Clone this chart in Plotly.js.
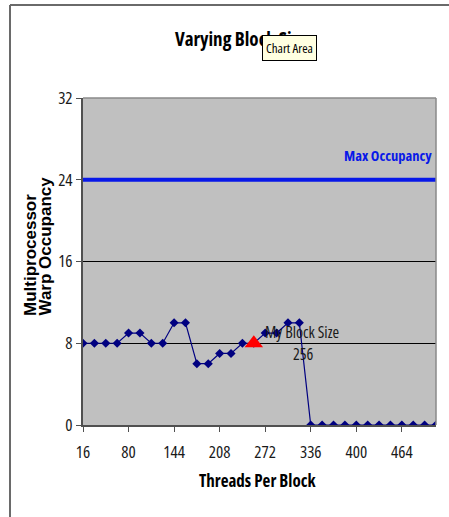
<!DOCTYPE html>
<html>
<head>
<meta charset="utf-8">
<script src="https://cdn.plot.ly/plotly-3.0.1.min.js"></script>
<style>
  html, body { margin: 0; padding: 0; background: #ffffff; }
  #chart { width: 449px; height: 517px; }
  /* condensed face for the narrow chart lettering */
  text[style*="Open Sans"] { font-stretch: 75%; }
</style>
</head>
<body>
<div id="chart"></div>
<script>
// ---- data ----
const blockSizes = [16, 32, 48, 64, 80, 96, 112, 128, 144, 160, 176, 192, 208, 224, 240, 256,
                    272, 288, 304, 320, 336, 352, 368, 384, 400, 416, 432, 448, 464, 480, 496, 512];
const warpOccupancy = [8, 8, 8, 8, 9, 9, 8, 8, 10, 10, 6, 6, 7, 7, 8, 8,
                       9, 9, 10, 10, 0, 0, 0, 0, 0, 0, 0, 0, 0, 0, 0, 0];
const myBlockSize = [256];
const myOccupancy = [8];
const maxOccupancy = 24;
const xTickVals = [16, 80, 144, 208, 272, 336, 400, 464];
const yTickVals = [0, 8, 16, 24, 32];

const NARROW = '"Open Sans", "Roboto Condensed", sans-serif';
const WIDE = '"Liberation Sans", Arial, sans-serif';

const traces = [
  {
    x: [blockSizes[0], blockSizes[blockSizes.length - 1]],
    y: [maxOccupancy, maxOccupancy],
    mode: 'lines',
    line: { color: '#0818e8', width: 4 },
    hoverinfo: 'skip',
    showlegend: false
  },
  {
    x: blockSizes,
    y: warpOccupancy,
    mode: 'lines+markers',
    line: { color: '#000080', width: 1.2 },
    marker: { symbol: 'diamond', size: 7, color: '#000080' },
    showlegend: false
  },
  {
    x: myBlockSize,
    y: myOccupancy,
    mode: 'markers',
    marker: { symbol: 'triangle-up', size: 16, color: '#ff0000' },
    showlegend: false
  }
];

const px = v => (v - 83) / 353;
const py = v => (425 - v) / 327;

const layout = {
  width: 449,
  height: 517,
  margin: { l: 83, r: 13, t: 98, b: 92 },
  paper_bgcolor: '#ffffff',
  plot_bgcolor: '#c0c0c0',
  showlegend: false,
  title: {
    text: '<b>Varying Block Size</b>',
    font: { family: NARROW, size: 19, color: '#000000' },
    x: 241 / 449, xanchor: 'center', xref: 'container',
    y: 1 - 39 / 517, yanchor: 'middle', yref: 'container'
  },
  xaxis: {
    range: [16, 512],
    tickvals: xTickVals,
    ticktext: xTickVals.map(String),
    ticks: 'outside', ticklen: 5, tickcolor: '#505050', tickwidth: 1,
    ticklabelstandoff: 6,
    showline: true, linecolor: '#505050', linewidth: 2,
    showgrid: false, zeroline: false,
    tickfont: { family: NARROW, size: 17, color: '#1a1a1a' },
    fixedrange: true
  },
  yaxis: {
    range: [0, 32],
    tickvals: yTickVals,
    ticktext: yTickVals.map(String),
    ticks: 'outside', ticklen: 5, tickcolor: '#505050', tickwidth: 1,
    showline: true, linecolor: '#505050', linewidth: 2,
    showgrid: true, gridcolor: '#000000', gridwidth: 1,
    zeroline: false,
    tickfont: { family: NARROW, size: 17, color: '#1a1a1a' },
    fixedrange: true
  },
  shapes: [
    // plot area border (top / right)
    { type: 'line', xref: 'paper', yref: 'paper', x0: 0, x1: 1, y0: 1, y1: 1,
      line: { color: '#8a8a8a', width: 1.5 }, layer: 'above' },
    { type: 'line', xref: 'paper', yref: 'paper', x0: 1, x1: 1, y0: 0, y1: 1,
      line: { color: '#8a8a8a', width: 1.5 }, layer: 'above' },
    // chart frame
    { type: 'line', xref: 'paper', yref: 'paper', x0: px(10), x1: px(10), y0: py(5), y1: py(530),
      line: { color: '#6a6a6a', width: 2 } },
    { type: 'line', xref: 'paper', yref: 'paper', x0: px(10), x1: px(460), y0: py(5), y1: py(5),
      line: { color: '#6a6a6a', width: 2 } }
  ],
  annotations: [
    { text: '<b>Threads Per Block</b>', xref: 'paper', yref: 'paper',
      x: px(257), y: py(480), xanchor: 'center', yanchor: 'middle', showarrow: false,
      font: { family: NARROW, size: 17, color: '#000000' } },
    { text: '<b>Multiprocessor</b>', xref: 'paper', yref: 'paper',
      x: px(30), y: py(318), xanchor: 'center', yanchor: 'bottom', showarrow: false, textangle: -90,
      font: { family: WIDE, size: 17, color: '#000000' } },
    { text: '<b>Warp Occupancy</b>', xref: 'paper', yref: 'paper',
      x: px(45), y: py(318), xanchor: 'center', yanchor: 'bottom', showarrow: false, textangle: -90,
      font: { family: WIDE, size: 17, color: '#000000' } },
    { text: '<b>Max Occupancy</b>', xref: 'paper', yref: 'paper',
      x: px(388), y: py(155), xanchor: 'center', yanchor: 'middle', showarrow: false,
      font: { family: NARROW, size: 14.5, color: '#0818e8' } },
    { text: 'My Block Size', xref: 'paper', yref: 'paper',
      x: px(302), y: py(332), xanchor: 'center', yanchor: 'middle', showarrow: false,
      font: { family: NARROW, size: 16, color: '#1a1a1a' } },
    { text: '256', xref: 'paper', yref: 'paper',
      x: px(303), y: py(354), xanchor: 'center', yanchor: 'middle', showarrow: false,
      font: { family: NARROW, size: 16, color: '#1a1a1a' } },
    { text: 'Chart Area', xref: 'paper', yref: 'paper',
      x: px(289), y: py(48.5), xanchor: 'center', yanchor: 'middle', showarrow: false,
      bgcolor: '#ffffe1', bordercolor: '#000000', borderwidth: 1, borderpad: 3,
      font: { family: NARROW, size: 13, color: '#000000' } }
  ]
};

Plotly.newPlot('chart', traces, layout, { staticPlot: true, displayModeBar: false });
</script>
</body>
</html>
